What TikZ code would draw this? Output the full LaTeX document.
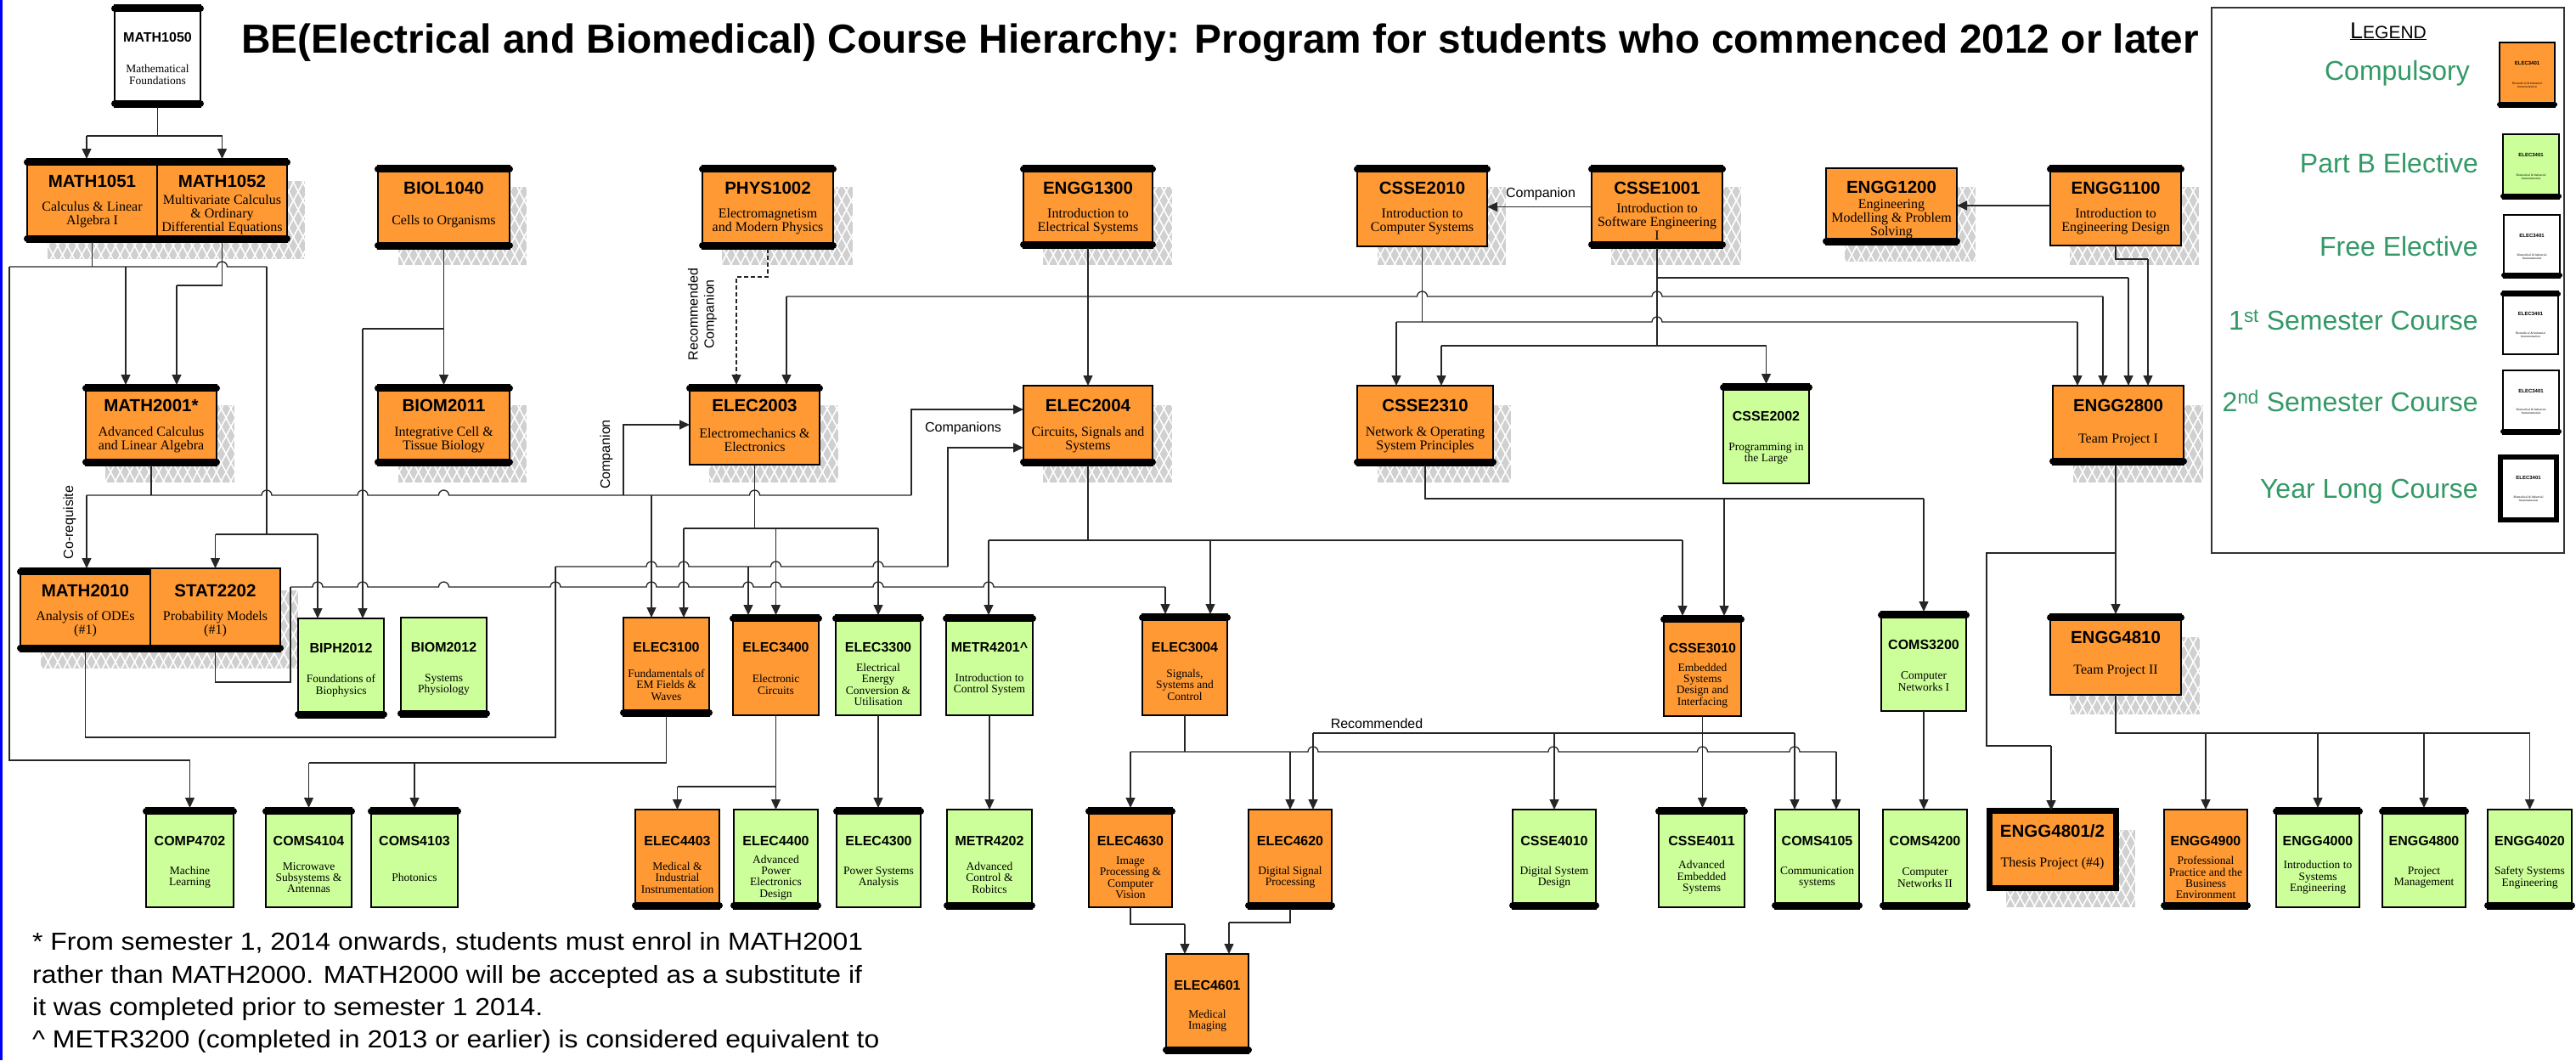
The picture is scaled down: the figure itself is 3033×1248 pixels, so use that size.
\documentclass[tikz,border=0pt]{standalone}
\usepackage{fontspec}
\setmainfont{Liberation Serif}
\newfontfamily\arial{Liberation Sans}
\newfontfamily\arialwide[FakeStretch=1.1]{Liberation Sans}
\usetikzlibrary{arrows.meta,fit,patterns.meta,calc}
\definecolor{orng}{RGB}{255,153,51}
\definecolor{lgreen}{RGB}{204,255,153}
\definecolor{legreen}{RGB}{51,153,102}
\definecolor{shadowgray}{RGB}{208,208,208}

\newcommand\crs[9]{%
  \node[box,#6,fit={(#2,#3)(#4,#5)}] (#1) {};
  \pgfmathsetmacro\cxx{(#2+#4)/2}\xdef\cx{\cxx}%
  \node[#7] (#1-code) at (\cx,#9) {#8};}
\newcommand\dsc[4]{\node[#2] (#1-desc) at (\cx,#3) {#4};}
\newcommand\hl[4]{\draw[conn] (#2,#1) \foreach \h in {#4}{ -- ({\h-6},#1) arc[start angle=180,end angle=0,radius=6pt]} -- (#3,#1);}
\newcommand\shd[4]{%
  \fill[shadowgray] (#1,#2) rectangle (#3,#4);
  \fill[pattern={Lines[angle=62,distance=10pt,line width=1.6pt]},pattern color=white] (#1,#2) rectangle (#3,#4);
  \fill[pattern={Lines[angle=118,distance=10pt,line width=1.6pt]},pattern color=white] (#1,#2) rectangle (#3,#4);}

\tikzset{
  box/.style={draw=black, line width=2.5pt, inner sep=0pt, outer sep=0pt, rectangle},
  comp/.style={fill=orng}, partb/.style={fill=lgreen}, free/.style={fill=white},
  barline/.style={draw=black, line cap=round},
  topbar/.style={append after command={([yshift=-#1/2]\tikzlastnode.north west) edge[barline,line width=#1] ([yshift=-#1/2]\tikzlastnode.north east)}},
  topbar/.default=8pt,
  botbar/.style={append after command={([yshift=#1/2]\tikzlastnode.south west) edge[barline,line width=#1] ([yshift=#1/2]\tikzlastnode.south east)}},
  botbar/.default=8pt,
  bothbar/.style={topbar,botbar},
  yearlong/.style={line width=7pt},
  conn/.style={draw=black!85, line width=1.3pt},
  arr/.style={-{Triangle[length=12pt,width=11pt]}},
  codeL/.style={font=\arial\bfseries\fontsize{20.5}{20.5}\selectfont, inner sep=0pt},
  codeS/.style={font=\arial\bfseries\fontsize{16}{16}\selectfont, inner sep=0pt},
  codeT/.style={font=\arial\bfseries\fontsize{6}{6}\selectfont, inner sep=0pt},
  descL/.style={font=\fontsize{16}{16}\selectfont, align=center, inner sep=0pt},
  descS/.style={font=\fontsize{13.5}{13.4}\selectfont, align=center, inner sep=0pt},
  descT/.style={font=\fontsize{3.6}{3.8}\selectfont, align=center, inner sep=0pt},
  lbl/.style={font=\arial\fontsize{16}{19}\selectfont, inner sep=0pt},
  legtxt/.style={font=\arial\fontsize{32}{32}\selectfont, text=legreen, inner sep=0pt, anchor=base east},
  note/.style={font=\arialwide\fontsize{29}{29}\selectfont, inner sep=0pt, anchor=base west},
}

\begin{document}
\begin{tikzpicture}[x=1pt,y=-1pt]
\useasboundingbox (0,0) rectangle (3033,1248);
\fill[white] (0,0) rectangle (3033,1248);
\draw[blue, line width=3pt] (1.5,0) -- (1.5,1248);

% ---------- shadows ----------
\shd{56}{213}{359}{305}
\shd{469}{220}{620}{312}
\shd{850}{220}{1004}{312}
\shd{1228}{220}{1380}{312}
\shd{1622}{220}{1773}{312}
\shd{1897}{220}{2050}{312}
\shd{2172}{220}{2326}{308}
\shd{2437}{220}{2589}{312}
\shd{124}{477}{276}{568}
\shd{469}{477}{620}{568}
\shd{835}{477}{987}{568}
\shd{1228}{477}{1380}{568}
\shd{1622}{477}{1779}{568}
\shd{2441}{477}{2594}{568}
\shd{48}{695}{351}{787}
\shd{2437}{750}{2590}{841}
\shd{2362}{977}{2514}{1068}

% ---------- title ----------
\node[anchor=base west, font=\arial\bfseries\fontsize{47.8}{47.8}\selectfont, inner sep=0pt] (title) at (284,62)
  {BE(Electrical and Biomedical) Course Hierarchy: Program for students who commenced 2012 or later};

% ---------- top row ----------
\crs{MATH1050}{135}{6}{236}{126}{free,bothbar}{codeS}{MATH1050}{44}
\dsc{MATH1050}{descS}{88}{Mathematical\\Foundations}
\crs{MATH1051}{32}{187}{185}{285}{comp,bothbar}{codeL}{MATH1051}{213}
\dsc{MATH1051}{descL}{253}{Calculus \& Linear\\Algebra I}
\crs{MATH1052}{185}{187}{338}{285}{comp,bothbar}{codeL}{MATH1052}{213}
\dsc{MATH1052}{descL}{253}{Multivariate Calculus\\\& Ordinary\\Differential Equations}
\crs{BIOL1040}{445}{195}{600}{293}{comp,bothbar}{codeL}{BIOL1040}{221}
\dsc{BIOL1040}{descL}{261}{Cells to Organisms}
\crs{PHYS1002}{827}{195}{981}{293}{comp,bothbar}{codeL}{PHYS1002}{221}
\dsc{PHYS1002}{descL}{261}{Electromagnetism\\and Modern Physics}
\crs{ENGG1300}{1205}{195}{1357}{292}{comp,bothbar}{codeL}{ENGG1300}{221}
\dsc{ENGG1300}{descL}{261}{Introduction to\\Electrical Systems}
\crs{CSSE2010}{1598}{195}{1751}{290}{comp,topbar}{codeL}{CSSE2010}{221}
\dsc{CSSE2010}{descL}{261}{Introduction to\\Computer Systems}
\crs{CSSE1001}{1874}{195}{2028}{292}{comp,bothbar}{codeL}{CSSE1001}{221}
\dsc{CSSE1001}{descL}{261}{Introduction to\\Software Engineering\\I}
\crs{ENGG1200}{2150}{198}{2304}{288}{comp,botbar}{codeL}{ENGG1200}{220}
\dsc{ENGG1200}{descL}{258}{Engineering\\Modelling \& Problem\\Solving}
\crs{ENGG1100}{2414}{195}{2568}{289}{comp,topbar}{codeL}{ENGG1100}{221}
\dsc{ENGG1100}{descL}{261}{Introduction to\\Engineering Design}

% ---------- second row ----------
\crs{MATH2001}{101}{453}{255}{548}{comp,bothbar}{codeL}{MATH2001*}{477}
\dsc{MATH2001}{descL}{518}{Advanced Calculus\\and Linear Algebra}
\crs{BIOM2011}{445}{453}{600}{548}{comp,bothbar}{codeL}{BIOM2011}{477}
\dsc{BIOM2011}{descL}{518}{Integrative Cell \&\\Tissue Biology}
\crs{ELEC2003}{812}{453}{965}{547}{comp,topbar}{codeL}{ELEC2003}{477}
\dsc{ELEC2003}{descL}{518}{Electromechanics \&\\Electronics}
\crs{ELEC2004}{1205}{454}{1357}{548}{comp,botbar}{codeL}{ELEC2004}{477}
\dsc{ELEC2004}{descL}{518}{Circuits, Signals and\\Systems}
\crs{CSSE2310}{1598}{454}{1758}{548}{comp,botbar}{codeL}{CSSE2310}{477}
\dsc{CSSE2310}{descL}{518}{Network \& Operating\\System Principles}
\crs{CSSE2002}{2029}{452}{2130}{569}{partb,topbar}{codeS}{CSSE2002}{490}
\dsc{CSSE2002}{descS}{534}{Programming in\\the Large}
\crs{ENGG2800}{2417}{454}{2571}{547}{comp,botbar}{codeL}{ENGG2800}{477}
\dsc{ENGG2800}{descL}{518}{Team Project I}

% ---------- third row ----------
\crs{MATH2010}{24}{669}{177}{767}{comp,bothbar}{codeL}{MATH2010}{695}
\dsc{MATH2010}{descL}{735}{Analysis of ODEs\\(\#1)}
\crs{STAT2202}{177}{669}{330}{767}{comp,botbar}{codeL}{STAT2202}{695}
\dsc{STAT2202}{descL}{735}{Probability Models\\(\#1)}
\crs{BIPH2012}{351}{728}{452}{845}{partb,botbar}{codeS}{BIPH2012}{763}
\dsc{BIPH2012}{descS}{807}{Foundations of\\Biophysics}
\crs{BIOM2012}{472}{727}{573}{844}{partb,botbar}{codeS}{BIOM2012}{762}
\dsc{BIOM2012}{descS}{806}{Systems\\Physiology}
\crs{ELEC3100}{734}{727}{835}{843}{comp,botbar}{codeS}{ELEC3100}{762}
\dsc{ELEC3100}{descS}{806}{Fundamentals of\\EM Fields \&\\Waves}
\crs{ELEC3400}{863}{724}{964}{842}{comp,topbar}{codeS}{ELEC3400}{762}
\dsc{ELEC3400}{descS}{806}{Electronic\\Circuits}
\crs{ELEC3300}{984}{724}{1084}{842}{partb,topbar}{codeS}{ELEC3300}{762}
\dsc{ELEC3300}{descS}{806}{Electrical\\Energy\\Conversion \&\\Utilisation}
\crs{METR4201}{1114}{724}{1216}{842}{partb,topbar}{codeS}{METR4201\textasciicircum}{762}
\dsc{METR4201}{descS}{806}{Introduction to\\Control System}
\crs{ELEC3004}{1345}{723}{1445}{842}{comp,topbar}{codeS}{ELEC3004}{762}
\dsc{ELEC3004}{descS}{806}{Signals,\\Systems and\\Control}
\crs{CSSE3010}{1959}{725}{2050}{843}{comp,topbar}{codeS}{CSSE3010}{763}
\dsc{CSSE3010}{descS}{807}{Embedded\\Systems\\Design and\\Interfacing}
\crs{COMS3200}{2215}{720}{2315}{837}{partb,topbar}{codeS}{COMS3200}{759}
\dsc{COMS3200}{descS}{802}{Computer\\Networks I}
\crs{ENGG4810}{2414}{723}{2568}{818}{comp,topbar}{codeL}{ENGG4810}{750}
\dsc{ENGG4810}{descL}{790}{Team Project II}

% ---------- bottom row ----------
\crs{COMP4702}{172}{951}{275}{1068}{partb,topbar}{codeS}{COMP4702}{990}
\dsc{COMP4702}{descS}{1033}{Machine\\Learning}
\crs{COMS4104}{313}{951}{414}{1068}{partb,topbar}{codeS}{COMS4104}{990}
\dsc{COMS4104}{descS}{1033}{Microwave\\Subsystems \&\\Antennas}
\crs{COMS4103}{437}{951}{539}{1068}{partb,topbar}{codeS}{COMS4103}{990}
\dsc{COMS4103}{descS}{1033}{Photonics}
\crs{ELEC4403}{748}{953}{847}{1070}{comp,botbar}{codeS}{ELEC4403}{990}
\dsc{ELEC4403}{descS}{1033}{Medical \&\\Industrial\\Instrumentation}
\crs{ELEC4400}{864}{953}{963}{1070}{partb,botbar}{codeS}{ELEC4400}{990}
\dsc{ELEC4400}{descS}{1033}{Advanced\\Power\\Electronics\\Design}
\crs{ELEC4300}{985}{951}{1084}{1068}{partb,topbar}{codeS}{ELEC4300}{990}
\dsc{ELEC4300}{descS}{1033}{Power Systems\\Analysis}
\crs{METR4202}{1115}{953}{1215}{1070}{partb,botbar}{codeS}{METR4202}{990}
\dsc{METR4202}{descS}{1033}{Advanced\\Control \&\\Robitcs}
\crs{ELEC4630}{1282}{951}{1380}{1068}{comp,topbar}{codeS}{ELEC4630}{990}
\dsc{ELEC4630}{descS}{1033}{Image\\Processing \&\\Computer\\Vision}
\crs{ELEC4620}{1470}{953}{1568}{1070}{comp,botbar}{codeS}{ELEC4620}{990}
\dsc{ELEC4620}{descS}{1033}{Digital Signal\\Processing}
\crs{CSSE4010}{1781}{953}{1879}{1070}{partb,botbar}{codeS}{CSSE4010}{990}
\dsc{CSSE4010}{descS}{1033}{Digital System\\Design}
\crs{CSSE4011}{1953}{951}{2054}{1068}{partb,topbar}{codeS}{CSSE4011}{990}
\dsc{CSSE4011}{descS}{1033}{Advanced\\Embedded\\Systems}
\crs{COMS4105}{2090}{953}{2189}{1070}{partb,botbar}{codeS}{COMS4105}{990}
\dsc{COMS4105}{descS}{1033}{Communication\\systems}
\crs{COMS4200}{2217}{953}{2316}{1070}{partb,botbar}{codeS}{COMS4200}{990}
\dsc{COMS4200}{descS}{1033}{Computer\\Networks II}
\crs{ENGG4801}{2342}{954}{2491}{1045}{comp,yearlong}{codeL}{ENGG4801/2}{978}
\dsc{ENGG4801}{descL}{1017}{Thesis Project (\#4)}
\crs{ENGG4900}{2548}{953}{2646}{1070}{comp,botbar}{codeS}{ENGG4900}{990}
\dsc{ENGG4900}{descS}{1033}{Professional\\Practice and the\\Business\\Environment}
\crs{ENGG4000}{2680}{951}{2778}{1068}{partb,topbar}{codeS}{ENGG4000}{990}
\dsc{ENGG4000}{descS}{1033}{Introduction to\\Systems\\Engineering}
\crs{ENGG4800}{2805}{951}{2903}{1068}{partb,topbar}{codeS}{ENGG4800}{990}
\dsc{ENGG4800}{descS}{1033}{Project\\Management}
\crs{ENGG4020}{2929}{953}{3028}{1070}{partb,botbar}{codeS}{ENGG4020}{990}
\dsc{ENGG4020}{descS}{1033}{Safety Systems\\Engineering}
\crs{ELEC4601}{1373}{1123}{1470}{1240}{comp,botbar}{codeS}{ELEC4601}{1160}
\dsc{ELEC4601}{descS}{1202}{Medical\\Imaging}

% ---------- connectors ----------
% MATH1050
\draw[conn] (MATH1050.south) -- (185.5,160);
\draw[conn] (102,160) -- (261.5,160);
\draw[conn,arr] (102,160) -- (MATH1051.north -| 102,0);
\draw[conn,arr] (261.5,160) -- (MATH1052.north);
% MATH1051
\draw[conn] (MATH1051.south) -- (108.5,314);
\hl{314}{11}{314}{261.5}
\draw[conn] (11,314) -- (11,895) -- (223.5,895);
\draw[conn,arr] (223.5,895) -- (COMP4702.north);
\draw[conn,arr] (148,314) -- (MATH2001.north -| 148,0);
\draw[conn] (314,314) -- (314,629);
\draw[conn] (253.5,629) -- (374,629);
\draw[conn,arr] (253.5,629) -- (STAT2202.north);
\draw[conn,arr] (374,629) -- (BIPH2012.north -| 374,0);
% MATH1052
\draw[conn] (MATH1052.south) -- (261.5,336) -- (208,336);
\draw[conn,arr] (208,336) -- (MATH2001.north -| 208,0);
% BIOL1040
\draw[conn,arr] (BIOL1040.south) -- (BIOM2011.north);
\draw[conn] (522.5,387) -- (427,387);
\draw[conn,arr] (427,387) -- (BIPH2012.north -| 427,0);
% PHYS1002 (recommended companion)
\draw[conn,dash pattern=on 5pt off 3pt,arr] (PHYS1002.south) -- (904,326) -- (867,326) -- (ELEC2003.north -| 867,0);
\node[lbl, rotate=90, align=center] (reccomp) at (827,370) {Recommended\\Companion};
% ENGG1300
\draw[conn,arr] (ENGG1300.south) -- (ELEC2004.north);
\hl{349}{926}{2476}{1674.5,1951}
\draw[conn,arr] (926,349) -- (ELEC2003.north -| 926,0);
\draw[conn,arr] (2476,349) -- (ENGG2800.north -| 2476,0);
% CSSE2010
\draw[conn] (CSSE2010.south) -- (1674.5,379);
\hl{379}{1644}{2446}{1951}
\draw[conn,arr] (1644,379) -- (CSSE2310.north -| 1644,0);
\draw[conn,arr] (2446,379) -- (ENGG2800.north -| 2446,0);
% CSSE1001
\draw[conn] (CSSE1001.south) -- (1951,407);
\draw[conn] (1697,407) -- (2079.5,407);
\draw[conn,arr] (1697,407) -- (CSSE2310.north -| 1697,0);
\draw[conn,arr] (2079.5,407) -- (CSSE2002.north);
\draw[conn] (1951,327) -- (2506,327);
\draw[conn,arr] (2506,327) -- (ENGG2800.north -| 2506,0);
\draw[conn,arr] (CSSE1001.west) -- (CSSE1001.west -| CSSE2010.east);
\node[lbl] (compan1) at (1814,228) {Companion};
% ENGG1100
\draw[conn,arr] (ENGG1100.west) -- (ENGG1100.west -| ENGG1200.east);
\draw[conn] (ENGG1100.south) -- (2491,305) -- (2529,305);
\draw[conn,arr] (2529,305) -- (ENGG2800.north -| 2529,0);
% MATH2001
\draw[conn] (MATH2001.south) -- (178,583);
\hl{583}{102}{1073}{314,427,522.5,888.5}
\draw[conn,arr] (102,583) -- (MATH2010.north -| 102,0);
\node[lbl, rotate=90] (coreq) at (82,615) {Co-requisite};
\draw[conn,arr] (734,583) -- (734,500) -- (ELEC2003.west);
\node[lbl, rotate=90] (compan2) at (714,535) {Companion};
\draw[conn,arr] (767,583) -- (ELEC3100.north -| 767,0);
\draw[conn,arr] (1073,583) -- (1073,482) -- ([yshift=19pt]ELEC2004.west);
\node[lbl] (compans) at (1134,504) {Companions};
% ELEC2003
\draw[conn] (ELEC2003.south) -- (888.5,622);
\draw[conn] (805,622) -- (1034,622);
\draw[conn,arr] (805,622) -- (ELEC3100.north -| 805,0);
\draw[conn,arr] (913.5,622) -- (ELEC3400.north);
\draw[conn,arr] (1034,622) -- (ELEC3300.north);
% MATH2010
\draw[conn] (MATH2010.south) -- (100.5,868) -- (654,868) -- (654,667);
\hl{667}{654}{1116}{767,805,913.5,1034}
\draw[conn,arr] (1116,667) -- (1116,527) -- ([yshift=-26pt]ELEC2004.west);
\draw[conn,arr] (881,667) -- (ELEC3400.north -| 881,0);
% STAT2202
\draw[conn] (STAT2202.south) -- (253.5,803) -- (342,803) -- (342,691);
\hl{691}{342}{1372}{374,427,522.5,654,767,805,881,913.5,1034,1164}
\draw[conn,arr] (1372,691) -- (ELEC3004.north -| 1372,0);
% ELEC2004
\draw[conn] (ELEC2004.south) -- (1281,636);
\draw[conn] (1164,636) -- (1981,636);
\draw[conn,arr] (1164,636) -- (METR4201.north -| 1164,0);
\draw[conn,arr] (1425,636) -- (ELEC3004.north -| 1425,0);
\draw[conn,arr] (1981,636) -- (CSSE3010.north -| 1981,0);
% CSSE2310
\draw[conn] (CSSE2310.south) -- (1678,587) -- (2265,587);
\draw[conn,arr] (2030,587) -- (CSSE3010.north -| 2030,0);
\draw[conn,arr] (2265,587) -- (COMS3200.north);
% ENGG2800
\draw[conn,arr] (ENGG2800.south -| 2491,0) -- (ENGG4810.north);
\draw[conn] (2491,651) -- (2339,651) -- (2339,878) -- (2415,878);
\draw[conn,arr] (2415,878) -- (ENGG4801.north -| 2415,0);
% ENGG4810
\draw[conn] (ENGG4810.south) -- (2491,863) -- (2978.5,863);
\draw[conn,arr] (2597,863) -- (ENGG4900.north);
\draw[conn,arr] (2729,863) -- (ENGG4000.north);
\draw[conn,arr] (2854,863) -- (ENGG4800.north);
\draw[conn,arr] (2978.5,863) -- (ENGG4020.north);
% ELEC3100
\draw[conn] (ELEC3100.south) -- (784.5,898) -- (363.5,898);
\draw[conn,arr] (363.5,898) -- (COMS4104.north);
\draw[conn,arr] (488,898) -- (COMS4103.north);
% ELEC3400
\draw[conn,arr] (ELEC3400.south) -- (ELEC4400.north);
\draw[conn] (913.5,926) -- (797.5,926);
\draw[conn,arr] (797.5,926) -- (ELEC4403.north);
% ELEC3300, METR4201
\draw[conn,arr] (ELEC3300.south) -- (ELEC4300.north -| ELEC3300.south);
\draw[conn,arr] (METR4201.south) -- (METR4202.north);
% ELEC3004
\draw[conn] (ELEC3004.south) -- (1395,885);
\hl{885}{1331}{2162}{1546,1829,2004.5,2113}
\draw[conn,arr] (1331,885) -- (ELEC4630.north);
\draw[conn,arr] (1519,885) -- (ELEC4620.north);
\draw[conn,arr] (2162,885) -- (COMS4105.north -| 2162,0);
% CSSE3010 (recommended)
\draw[conn,arr] (CSSE3010.south) -- (CSSE4011.north -| CSSE3010.south);
\draw[conn] (1546,863) -- (2113,863);
\draw[conn,arr] (1546,863) -- (ELEC4620.north -| 1546,0);
\draw[conn,arr] (1830,863) -- (CSSE4010.north);
\draw[conn,arr] (2113,863) -- (COMS4105.north -| 2113,0);
\node[lbl] (recom) at (1621,852) {Recommended};
% COMS3200
\draw[conn,arr] (COMS3200.south) -- (COMS4200.north -| COMS3200.south);
% ELEC4630/4620 -> ELEC4601
\draw[conn] (ELEC4630.south) -- (1331,1088) -- (1395,1088);
\draw[conn,arr] (1395,1088) -- (ELEC4601.north -| 1395,0);
\draw[conn] (ELEC4620.south) -- (1519,1086) -- (1447,1086);
\draw[conn,arr] (1447,1086) -- (ELEC4601.north -| 1447,0);

% ---------- legend ----------
\node[draw=black!80, line width=1.5pt, inner sep=0pt, fit={(2604,9)(3019,651)}] (legend) {};
\node[anchor=base, inner sep=0pt, font=\arial] (legtitle) at (2812,45)
  {\underline{\fontsize{27}{27}\selectfont L\fontsize{21}{21}\selectfont EGEND}};
\node[legtxt] (lg1) at (2908,94.5) {Compulsory};
\node[legtxt] (lg2) at (2918,203.5) {Part B Elective};
\node[legtxt] (lg3) at (2918,301.5) {Free Elective};
\node[legtxt] (lg4) at (2918,388.5) {1\textsuperscript{st} Semester Course};
\node[legtxt] (lg5) at (2918,484.5) {2\textsuperscript{nd} Semester Course};
\node[legtxt] (lg6) at (2918,586.5) {Year Long Course};
\crs{sam1}{2943}{50}{3008}{126}{comp,line width=2pt,botbar=6pt}{codeT}{ELEC3401}{74}
\dsc{sam1}{descT}{100}{Biomedical \& Industrial\\Instrumentation}
\crs{sam2}{2947}{158}{3013}{234}{partb,line width=2pt,botbar=6pt}{codeT}{ELEC3401}{182}
\dsc{sam2}{descT}{208}{Biomedical \& Industrial\\Instrumentation}
\crs{sam3}{2948}{253}{3014}{327}{free,line width=2pt,botbar=6pt}{codeT}{ELEC3401}{277}
\dsc{sam3}{descT}{302}{Biomedical \& Industrial\\Instrumentation}
\crs{sam4}{2947}{343}{3012}{417}{free,line width=2pt,topbar=6pt}{codeT}{ELEC3401}{369}
\dsc{sam4}{descT}{394}{Biomedical \& Industrial\\Instrumentation}
\crs{sam5}{2947}{436}{3013}{511}{free,line width=2pt,botbar=6pt}{codeT}{ELEC3401}{460}
\dsc{sam5}{descT}{484}{Biomedical \& Industrial\\Instrumentation}
\crs{sam6}{2944}{538}{3010}{612}{free,line width=6pt}{codeT}{ELEC3401}{562}
\dsc{sam6}{descT}{587}{Biomedical \& Industrial\\Instrumentation}

% ---------- footnotes ----------
\node[note] (n1) at (38,1118) {* From semester 1, 2014 onwards, students must enrol in MATH2001};
\node[note] (n2) at (38,1157) {rather than MATH2000. MATH2000 will be accepted as a substitute if};
\node[note] (n3) at (38,1195) {it was completed prior to semester 1 2014.};
\node[note] (n4) at (38,1233) {\textasciicircum{} METR3200 (completed in 2013 or earlier) is considered equivalent to};
\end{tikzpicture}
\end{document}
